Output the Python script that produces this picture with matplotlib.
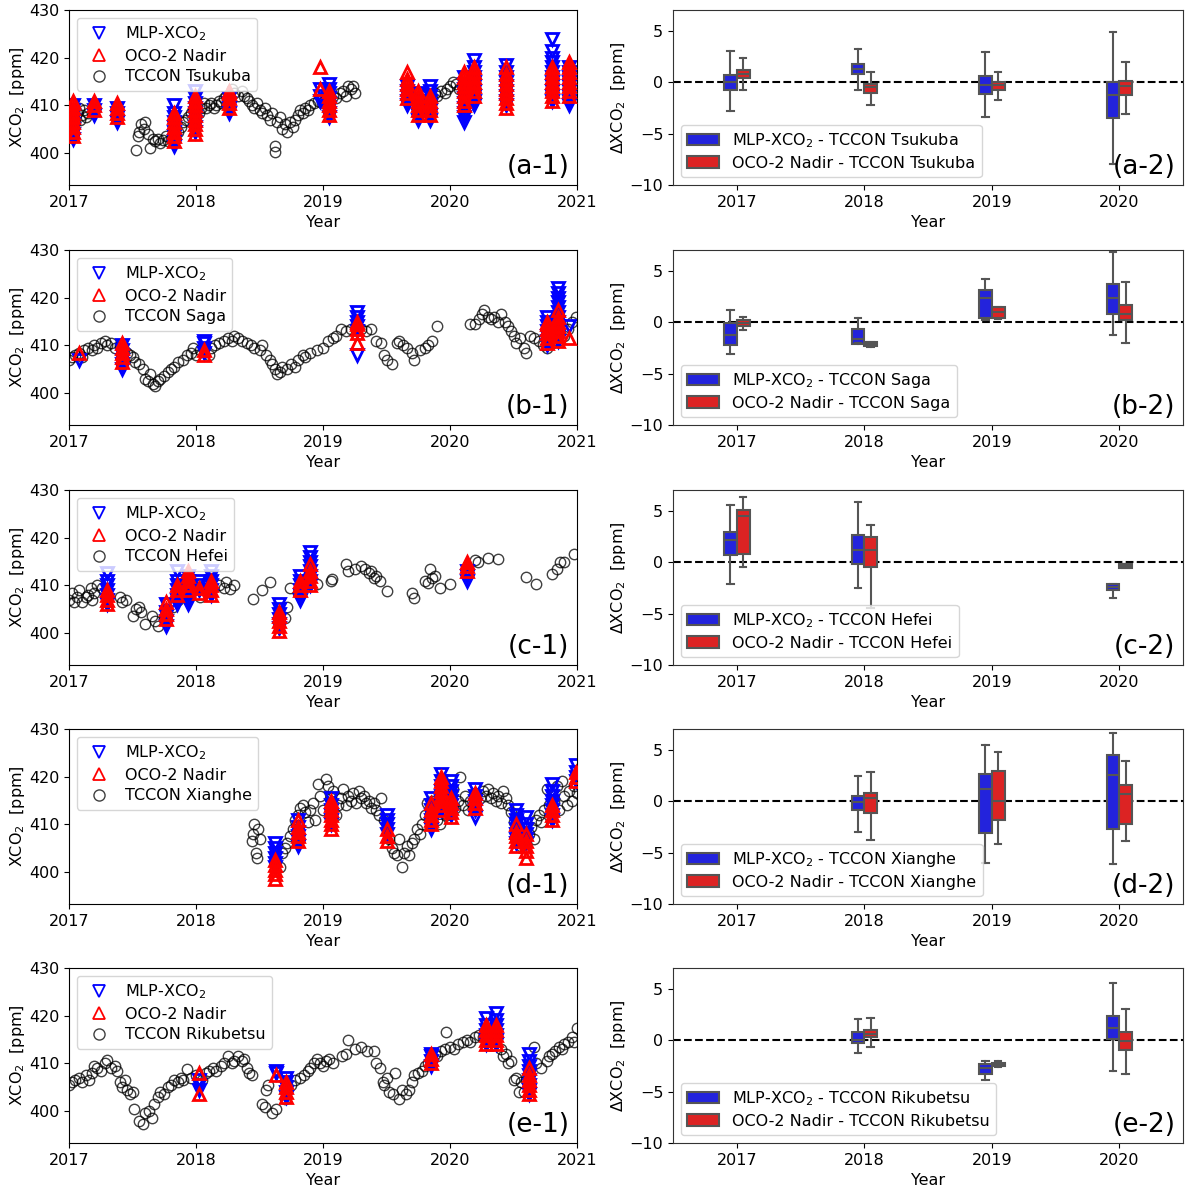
import matplotlib
matplotlib.use("Agg")
import matplotlib.pyplot as plt
from matplotlib.lines import Line2D
from matplotlib.patches import Patch
import numpy as np

# ---------------- data: time series (decimal year, ppm) ----------------
sites = ["Tsukuba", "Saga", "Hefei", "Xianghe", "Rikubetsu"]
panel_ids = ["a", "b", "c", "d", "e"]

tsukuba_tccon_t = [2017.03, 2017.05, 2017.06, 2017.08, 2017.09, 2017.1, 2017.12, 2017.13, 2017.15,
                   2017.53, 2017.54, 2017.55, 2017.57, 2017.59, 2017.6, 2017.62, 2017.64, 2017.66, 2017.68,
                   2017.7, 2017.72, 2017.74, 2017.76, 2017.78, 2017.8, 2017.86, 2017.88, 2017.9, 2017.92,
                   2017.94, 2017.96, 2017.98, 2018.0, 2018.02, 2018.04, 2018.06, 2018.08, 2018.1, 2018.12,
                   2018.14, 2018.16, 2018.18, 2018.2, 2018.22, 2018.24, 2018.28, 2018.3, 2018.33, 2018.36,
                   2018.38, 2018.4, 2018.42, 2018.44, 2018.46, 2018.48, 2018.5, 2018.52, 2018.54, 2018.56,
                   2018.58, 2018.6, 2018.62, 2018.625, 2018.64, 2018.66, 2018.68, 2018.7, 2018.72, 2018.74,
                   2018.76, 2018.78, 2018.8, 2018.82, 2018.84, 2018.86, 2018.88, 2018.9, 2018.93, 2018.96,
                   2018.99, 2019.02, 2019.05, 2019.08, 2019.1, 2019.13, 2019.16, 2019.18, 2019.2, 2019.22,
                   2019.24, 2019.25, 2019.8, 2019.83, 2019.86, 2019.88, 2019.9, 2019.93, 2019.96, 2019.98,
                   2020.0, 2020.02, 2020.05, 2020.07]
tsukuba_tccon_x = [407.5, 406.5, 408.5, 409.5, 407, 408, 409, 407.5, 408.5,
                   400.7, 403.5, 404.5, 406, 405, 406.5, 404, 401, 403, 402.5,
                   403, 402.2, 402.8, 403.5, 402.5, 403, 404.5, 405.5, 406.5, 407,
                   407.5, 408.5, 409, 410, 408.5, 409.5, 410.5, 409.5, 410, 410.5,
                   409.5, 410, 411, 410.5, 411.5, 412, 413.5, 412.5, 412, 413,
                   412, 411.5, 411, 410, 409.5, 410.5, 409, 408.5, 409.5, 408,
                   407, 408.5, 401.5, 400.3, 406.5, 407.5, 405, 406, 404.5, 406.5,
                   405.5, 407, 408, 409, 408.5, 409.5, 409, 410, 410.5, 411,
                   410.5, 411.5, 411, 412, 411.5, 412.5, 413, 412, 414, 413.5,
                   414, 412.5, 410.5, 411, 411.5, 412.5, 412, 413, 412.5, 413.5,
                   414, 415, 414.5, 413.5]
tsukuba_mlp_t = [2017.03, 2017.2, 2017.38, 2017.83, 2017.99, 2018.26, 2018.98, 2019.05,
                 2019.66, 2019.75, 2019.84, 2020.11, 2020.19, 2020.44, 2020.8, 2020.94]
tsukuba_mlp_x = [[403, 404, 405, 406, 407, 408, 409, 410],
                 [408, 409, 410],
                 [406.5, 407.5, 408.5, 409.5],
                 [401.5, 402.5, 403.5, 404.5, 405.5, 406.5, 407.5, 408.5, 410],
                 [404.5, 405.5, 406.5, 407.5, 408.5, 409.5, 410.5, 411.5, 413],
                 [408.5, 409.5, 410.5, 411.5],
                 [411, 412, 413.5],
                 [407.5, 408.5, 409.5, 410.5, 411.5, 412.5, 413.5, 414.5],
                 [410, 411, 412, 413, 414],
                 [407, 408, 409, 410, 411, 412.5],
                 [407, 408, 409, 410, 411, 412, 413, 414],
                 [406.5, 407.5, 408.5, 409.5, 410.5, 411.5, 412.5, 413.5, 414.5, 416],
                 [410, 411, 412, 413, 414, 415, 416, 417, 418, 419.5],
                 [410, 411, 412, 413, 414, 415, 416, 417, 418.5],
                 [411, 412, 413, 414, 415, 416, 417, 418, 419, 420, 421.5, 424],
                 [410, 411, 412, 413, 414, 415, 416, 417, 418]]
tsukuba_oco_t = tsukuba_mlp_t
tsukuba_oco_x = [[403.5, 404.5, 405.5, 406.5, 407.5, 408.5, 409.5, 410.5, 411],
                 [409, 410, 411],
                 [407.5, 408.5, 409.5, 410.5],
                 [402.5, 403.5, 404.5, 405.5, 406.5, 407.5, 408.5],
                 [404, 405, 406, 407, 408, 409, 410, 411, 412],
                 [409.5, 410.5, 411.5, 412.5, 413],
                 [413.5, 418],
                 [408, 409, 410, 411, 412, 413],
                 [411.5, 412.5, 413.5, 414.5, 415.5, 417],
                 [408, 409, 410, 411, 412, 413],
                 [408, 409, 410, 411, 412],
                 [410, 411, 412, 413, 414, 415, 416, 417],
                 [412, 413, 414, 415, 416, 417, 418],
                 [409.5, 410.5, 411.5, 412.5, 413.5, 414.5, 415.5, 416.5, 418],
                 [411, 412, 413, 414, 415, 416, 417, 418],
                 [412, 413, 414, 415, 416, 417, 418, 419]]

saga_tccon_t = [2017.0, 2017.02, 2017.05, 2017.08, 2017.1, 2017.12, 2017.15, 2017.18, 2017.2, 2017.22,
                2017.25, 2017.28, 2017.3, 2017.33, 2017.36, 2017.4, 2017.43, 2017.46, 2017.48, 2017.5,
                2017.52, 2017.55, 2017.58, 2017.6, 2017.62, 2017.64, 2017.66, 2017.68, 2017.7, 2017.72,
                2017.75, 2017.78, 2017.8, 2017.83, 2017.86, 2017.9, 2017.93, 2017.96, 2017.98, 2018.0,
                2018.03, 2018.06, 2018.1, 2018.12, 2018.15, 2018.18, 2018.22, 2018.25, 2018.28, 2018.3,
                2018.33, 2018.36, 2018.4, 2018.43, 2018.46, 2018.5, 2018.52, 2018.55, 2018.58, 2018.6,
                2018.62, 2018.64, 2018.66, 2018.68, 2018.72, 2018.75, 2018.78, 2018.8, 2018.84, 2018.86,
                2018.9, 2018.95, 2019.0, 2019.04, 2019.08, 2019.1, 2019.14, 2019.18, 2019.22, 2019.26,
                2019.3, 2019.34, 2019.38, 2019.42, 2019.46, 2019.48, 2019.5, 2019.54, 2019.58, 2019.6,
                2019.63, 2019.66, 2019.7, 2019.72, 2019.76, 2019.8, 2019.83, 2019.86, 2019.9,
                2020.16, 2020.2, 2020.23, 2020.25, 2020.27, 2020.3, 2020.32, 2020.35, 2020.38, 2020.4,
                2020.43, 2020.46, 2020.48, 2020.5, 2020.52, 2020.55, 2020.58, 2020.6, 2020.63, 2020.66,
                2020.7, 2020.73, 2020.76, 2020.8, 2020.85, 2020.9, 2020.93, 2020.96, 2020.99]
saga_tccon_x = [407, 407.5, 408, 408.5, 407.5, 409, 409.5, 409, 410, 409.5,
                410.5, 411, 410, 410.5, 409.5, 410, 409, 408.5, 408, 407.5,
                406.5, 406, 405, 403, 402.5, 404, 402, 401.5, 402.5, 403,
                403.5, 404.5, 405, 405.5, 406.5, 407, 408, 408.5, 409.5, 408,
                409, 409.5, 408, 409.5, 410, 410.5, 411, 411.5, 411, 412,
                411.5, 411, 410.5, 410, 409.5, 409, 410, 408, 407, 406,
                405, 404, 404.5, 405.5, 405, 406, 405.5, 407, 408, 407.5,
                408.5, 409, 409.5, 411, 411.5, 412, 413.5, 413, 413.5, 414,
                413.5, 413, 413.5, 411, 410.5, 408, 407, 406, 410.5, 411,
                410, 409.5, 408.5, 407, 409, 409.5, 410, 411, 414,
                414.5, 414.5, 415.5, 416.5, 417.5, 416, 415.5, 416, 415, 416.5,
                415, 414, 413, 412, 410.5, 411.5, 409.5, 408.5, 412, 411.5,
                411, 410, 409.5, 410.5, 411, 412, 413.5, 415, 416]
saga_mlp_t = [2017.08, 2017.42, 2018.06, 2019.27, 2020.76, 2020.85, 2020.94]
saga_mlp_x = [[407],
              [405, 406, 407, 408, 409, 410],
              [408.5, 409.5, 410.5, 411],
              [408, 413, 414, 415, 416, 417],
              [410, 411, 412, 413, 414, 415, 416],
              [411, 412, 413, 414, 415, 416, 417, 418, 419, 420, 421, 422],
              [414]]
saga_oco_t = saga_mlp_t
saga_oco_x = [[408.5],
              [406.5, 407.5, 408.5, 409.5, 410.5],
              [408, 409],
              [410.5, 412.5, 413.5, 414.5, 415],
              [410.5, 411.5, 412.5, 413.5, 414.5, 415],
              [411, 412, 413, 414, 415, 416, 417.5],
              [411.5]]

hefei_tccon_t = [2017.0, 2017.02, 2017.04, 2017.06, 2017.08, 2017.1, 2017.13, 2017.15, 2017.17, 2017.18,
                 2017.2, 2017.22, 2017.26, 2017.4, 2017.42, 2017.45, 2017.5, 2017.53, 2017.55, 2017.57,
                 2017.6, 2017.65, 2017.68, 2017.7, 2017.75, 2017.82, 2017.86, 2017.9, 2018.0, 2018.03,
                 2018.18, 2018.22, 2018.24, 2018.27, 2018.3, 2018.45, 2018.52, 2018.58, 2018.7, 2018.72,
                 2018.74, 2018.8, 2018.95, 2019.06, 2019.07, 2019.18, 2019.2, 2019.25, 2019.3, 2019.33,
                 2019.36, 2019.38, 2019.4, 2019.42, 2019.45, 2019.5, 2019.7, 2019.72, 2019.8, 2019.83,
                 2019.84, 2019.86, 2019.88, 2019.92, 2020.0, 2020.2, 2020.22, 2020.3, 2020.38, 2020.6,
                 2020.68, 2020.8, 2020.84, 2020.87, 2020.9, 2020.98]
hefei_tccon_x = [407, 408.5, 406.5, 407.5, 409, 406.5, 407.5, 408, 409.5, 407,
                 408.5, 410, 409.5, 407.5, 406.5, 407, 403.5, 405, 405.5, 404.5,
                 401.8, 403.5, 402.5, 401.5, 403, 405.5, 407, 408, 410, 407.5,
                 410, 409.5, 410.8, 409.2, 410, 407.2, 409, 410.8, 403.2, 405.5,
                 409.5, 408.5, 410.3, 411, 411.3, 414.5, 413, 413.5, 414, 413.5,
                 412.5, 413, 411.5, 412, 411, 408.8, 408.3, 407.3, 411, 410.5,
                 413.5, 411.5, 412, 409.5, 410.3, 415.3, 414.8, 415.8, 415.5, 411.8,
                 410.3, 412.3, 413.5, 414.8, 415, 416.5]
hefei_mlp_t = [2017.3, 2017.76, 2017.85, 2017.94, 2018.02, 2018.12, 2018.65, 2018.82, 2018.9, 2020.13]
hefei_mlp_x = [[406, 407, 408, 409, 410, 411, 412.5],
               [401.5, 402.5, 403.5, 404.5, 406],
               [406, 407, 408, 409, 410, 411, 413],
               [406, 407, 408, 409, 410, 411, 412],
               [409, 410, 411],
               [408, 409, 410, 411, 412, 413],
               [401, 402, 403, 404, 405, 406],
               [407, 408, 409, 410, 411, 412],
               [410, 411, 412, 413, 414, 415, 416, 417],
               [411, 412, 413]]
hefei_oco_t = hefei_mlp_t
hefei_oco_x = [[406, 407, 408, 409],
               [403, 404, 405, 406.5],
               [408, 409, 410],
               [409, 410, 411, 412, 413],
               [408.5, 409.5],
               [408, 409, 410, 411],
               [400.5, 401.5, 402.5, 403.5, 404.5],
               [409, 410, 411],
               [410, 411, 412, 413, 414.5],
               [413, 414, 415]]

xianghe_tccon_t = [2018.44, 2018.45, 2018.46, 2018.47, 2018.48, 2018.49, 2018.5, 2018.66, 2018.68, 2018.7,
                   2018.72, 2018.74, 2018.76, 2018.78, 2018.8, 2018.82, 2018.84, 2018.86, 2018.88, 2018.9,
                   2018.92, 2018.94, 2018.96, 2018.98, 2019.0, 2019.02, 2019.04, 2019.06, 2019.08, 2019.1,
                   2019.12, 2019.14, 2019.16, 2019.18, 2019.2, 2019.22, 2019.24, 2019.26, 2019.28, 2019.3,
                   2019.32, 2019.34, 2019.36, 2019.38, 2019.4, 2019.42, 2019.44, 2019.46, 2019.48, 2019.5,
                   2019.52, 2019.54, 2019.56, 2019.58, 2019.6, 2019.62, 2019.64, 2019.66, 2019.68, 2019.7,
                   2019.72, 2019.74, 2019.76, 2019.78, 2019.8, 2019.82, 2019.84, 2019.86, 2019.88, 2019.9,
                   2019.92, 2019.94, 2019.96, 2019.98, 2020.0, 2020.02, 2020.04, 2020.06, 2020.08, 2020.1,
                   2020.12, 2020.14, 2020.16, 2020.18, 2020.2, 2020.24, 2020.26, 2020.28, 2020.3, 2020.32,
                   2020.34, 2020.36, 2020.38, 2020.4, 2020.42, 2020.44, 2020.46, 2020.48, 2020.5, 2020.52,
                   2020.54, 2020.56, 2020.58, 2020.6, 2020.62, 2020.64, 2020.66, 2020.68, 2020.7, 2020.72,
                   2020.74, 2020.76, 2020.78, 2020.8, 2020.82, 2020.84, 2020.86, 2020.88, 2020.9, 2020.92,
                   2020.94, 2020.96, 2020.98, 2021.0]
xianghe_tccon_x = [406.5, 408, 410, 404, 403, 409, 407, 401, 404, 405,
                   406, 407.5, 409, 411, 412, 413.5, 414, 412.5, 410.5, 413,
                   414.5, 411, 418.5, 416, 413, 419.5, 418, 415.5, 417, 412,
                   414, 415.5, 417.5, 414, 416, 415, 416.5, 414.5, 417, 415.5,
                   416, 414.5, 415, 413.5, 414.5, 413, 412, 415.5, 411, 409.5,
                   407, 405, 404, 403.5, 407, 401, 404, 405.5, 403.5, 406,
                   407, 409, 408, 410, 412, 414.5, 413, 415, 412.5, 411,
                   410, 413, 416, 412, 414, 417.5, 413.5, 415, 420, 414,
                   416, 413, 415, 414, 416.5, 415.5, 417, 416, 417.5, 415.5,
                   416.5, 415, 416, 414.5, 417, 415.5, 414, 412.5, 410.5, 409,
                   407, 405.5, 407.5, 406, 408, 409.5, 407, 411, 412, 410.5,
                   413, 417.5, 414, 412, 415, 418, 413, 419, 416, 414,
                   417, 415, 418, 416.5]
xianghe_mlp_t = [2018.62, 2018.8, 2019.06, 2019.5, 2019.85, 2019.93, 2020.01, 2020.2,
                 2020.52, 2020.6, 2020.8, 2020.99]
xianghe_mlp_x = [[401, 402, 403, 404, 405, 406],
                 [405.5, 406.5, 407.5, 408.5, 409.5, 411],
                 [410, 411, 412, 413, 414, 415.5],
                 [408, 409, 410, 411, 412],
                 [409, 410, 411, 412, 413, 414, 415.5],
                 [413, 414, 415, 416, 417, 418, 419, 420.5],
                 [412, 413, 414, 415, 416, 417, 418, 419],
                 [411.5, 413, 414, 415, 416, 417.5],
                 [406, 407, 408, 409, 410, 411, 412, 413],
                 [406, 407, 408, 409, 410, 411.5],
                 [411, 412, 413, 414, 415, 416, 417, 418.5],
                 [419, 420, 421, 422.5]]
xianghe_oco_t = xianghe_mlp_t
xianghe_oco_x = [[398.5, 399.5, 400.5, 401.5, 402.5],
                 [406.5, 407.5, 408.5, 409.5, 411],
                 [409, 410, 411, 412, 413, 414, 415],
                 [406.5, 407.5, 409],
                 [410, 411, 412, 413, 414.5],
                 [413, 414, 415, 416, 417, 418, 419, 420],
                 [411.5, 412.5, 413.5, 414.5, 415.5],
                 [413.5, 414.5, 415.5, 416.5],
                 [405.5, 406.5, 407.5, 408.5, 410],
                 [403, 404.5, 405.5, 406.5, 408],
                 [411, 412, 413, 414],
                 [419, 420, 421]]

rikubetsu_tccon_t = [2017.0, 2017.02, 2017.05, 2017.08, 2017.1, 2017.13, 2017.16, 2017.18, 2017.2, 2017.22,
                     2017.25, 2017.28, 2017.3, 2017.33, 2017.36, 2017.38, 2017.4, 2017.42, 2017.44, 2017.46,
                     2017.48, 2017.5, 2017.51, 2017.55, 2017.58, 2017.6, 2017.63, 2017.65, 2017.67, 2017.7,
                     2017.72, 2017.75, 2017.78, 2017.8, 2017.83, 2017.86, 2017.88, 2017.9, 2017.93, 2017.96,
                     2018.0, 2018.05, 2018.08, 2018.1, 2018.13, 2018.16, 2018.2, 2018.22, 2018.25, 2018.28,
                     2018.3, 2018.33, 2018.36, 2018.38, 2018.4, 2018.42, 2018.44, 2018.52, 2018.54, 2018.55,
                     2018.57, 2018.6, 2018.63, 2018.7, 2018.75, 2018.78, 2018.82, 2018.85, 2018.88, 2018.9,
                     2018.93, 2018.95, 2018.98, 2019.0, 2019.02, 2019.05, 2019.08, 2019.15, 2019.18, 2019.2,
                     2019.25, 2019.3, 2019.35, 2019.4, 2019.42, 2019.45, 2019.47, 2019.48, 2019.5, 2019.52,
                     2019.55, 2019.57, 2019.6, 2019.62, 2019.65, 2019.68, 2019.7, 2019.72, 2019.75, 2019.78,
                     2019.8, 2019.83, 2019.86, 2019.88, 2019.9, 2019.93, 2019.96, 2019.97, 2020.0, 2020.03,
                     2020.06, 2020.1, 2020.13, 2020.16, 2020.2, 2020.23, 2020.26, 2020.28, 2020.4, 2020.42,
                     2020.44, 2020.46, 2020.48, 2020.5, 2020.52, 2020.54, 2020.56, 2020.58, 2020.6, 2020.62,
                     2020.66, 2020.68, 2020.72, 2020.76, 2020.78, 2020.8, 2020.83, 2020.86, 2020.88, 2020.9,
                     2020.93, 2020.96, 2020.98, 2021.0]
rikubetsu_tccon_x = [405.5, 406, 406.5, 407, 406, 407.5, 406.5, 408, 409.5, 409,
                     408.5, 410, 410.8, 409, 409.5, 408.5, 406, 405, 406.5, 404.5,
                     403.5, 404, 400.5, 398, 397.3, 399.5, 400, 398.5, 401.5, 403,
                     404, 403.5, 405, 405.5, 406.5, 406, 407, 406.5, 408.8, 407,
                     407.5, 406.5, 408, 408.5, 409, 408.5, 409.5, 410, 411.5, 410,
                     410.5, 411.5, 410.5, 411, 409, 408, 407.5, 401.5, 400.8, 404.5,
                     405.5, 399.5, 400.5, 402.5, 405.5, 406.5, 407, 407.5, 408.5, 409,
                     410, 411, 410, 409.5, 410.5, 411, 410, 411.5, 412, 415,
                     413, 413.5, 412.5, 412.5, 410, 409, 406, 405.5, 407, 404,
                     403.5, 408, 402.5, 404.5, 403.5, 404.5, 406, 407.5, 408, 408.5,
                     409.5, 410, 411, 412, 411.5, 412.5, 413, 416.5, 413.5, 413,
                     414, 414.5, 415, 414.5, 415.5, 416, 415.5, 414.5, 413, 411.5,
                     412, 410, 410.5, 406.5, 407, 404, 406, 404, 406.5, 407,
                     413.5, 410, 409, 410.5, 411.5, 412, 412.5, 413.5, 413, 414,
                     414.5, 415.5, 414.5, 417.5]
rikubetsu_mlp_t = [2018.02, 2018.63, 2018.71, 2019.85, 2020.28, 2020.36, 2020.62]
rikubetsu_mlp_x = [[404.5, 405.5, 406.5],
                   [408, 408.5],
                   [403, 404, 405, 406, 407],
                   [409.5, 410.5, 411.5, 412],
                   [414, 415, 416, 417, 418, 419.5],
                   [414, 415, 416, 417, 418, 419, 420.5],
                   [403.5, 404.5, 405.5, 406.5, 407.5, 408.5, 409.5, 410.5, 412]]
rikubetsu_oco_t = rikubetsu_mlp_t
rikubetsu_oco_x = [[403.5, 408],
                   [407.5],
                   [403, 404, 405, 406],
                   [410, 411, 412],
                   [414, 415, 416, 417, 418],
                   [414, 415, 416, 417, 418],
                   [403.5, 404.5, 405.5, 406.5, 407.5, 409]]

# ---------------- data: yearly difference statistics ----------------
# per year 2017..2020: (whislo, q1, median, q3, whishi); None = no data
years = [2017, 2018, 2019, 2020]
tsukuba_mlp_box = [(-2.8, -0.8, 0.0, 0.7, 3.0), (-0.8, 0.8, 1.3, 1.8, 3.2),
                   (-3.4, -1.2, -0.3, 0.6, 2.9), (-8.0, -3.5, -1.3, 0.0, 4.9)]
tsukuba_oco_box = [(-0.8, 0.4, 0.8, 1.2, 2.3), (-2.2, -1.1, -0.5, -0.2, 1.0),
                   (-1.7, -0.8, -0.3, 0.0, 1.0), (-3.1, -1.3, -0.4, 0.1, 1.9)]
saga_mlp_box = [(-3.1, -2.2, -1.3, -0.1, 1.2), (-2.0, -2.1, -1.6, -0.7, 0.4),
                (0.2, 0.4, 2.3, 3.1, 4.2), (-1.3, 0.8, 2.3, 3.7, 6.8)]
saga_oco_box = [(-0.8, -0.4, -0.1, 0.2, 0.5), (-2.4, -2.3, -2.1, -1.9, -1.9),
                (0.3, 0.4, 1.0, 1.5, 1.5), (-2.0, 0.2, 0.8, 1.7, 3.9)]
hefei_mlp_box = [(-2.1, 0.7, 2.1, 2.9, 5.5), (-2.5, -0.2, 1.2, 2.6, 5.8),
                 None, (-3.5, -2.7, -2.4, -2.1, -2.1)]
hefei_oco_box = [(-0.5, 0.8, 4.5, 5.1, 6.3), (-4.5, -0.5, 1.2, 2.4, 3.6),
                 None, (-0.6, -0.6, -0.4, -0.2, -0.2)]
xianghe_mlp_box = [None, (-3.0, -0.9, -0.1, 0.5, 2.4),
                   (-6.0, -3.1, 1.2, 2.6, 5.4), (-6.1, -2.7, 2.5, 4.5, 6.6)]
xianghe_oco_box = [None, (-3.8, -1.2, 0.3, 0.8, 2.8),
                   (-4.2, -1.8, 0.0, 2.9, 4.8), (-3.9, -2.2, 0.7, 1.6, 3.9)]
rikubetsu_mlp_box = [None, (-1.3, -0.3, 0.0, 0.8, 2.0),
                     (-3.9, -3.3, -2.7, -2.3, -2.0), (-3.0, 0.1, 1.2, 2.3, 5.5)]
rikubetsu_oco_box = [None, (-0.7, 0.3, 0.6, 1.0, 2.1),
                     (-2.6, -2.5, -2.4, -2.2, -2.0), (-3.3, -1.0, -0.1, 0.8, 3.0)]

tccon = [(tsukuba_tccon_t, tsukuba_tccon_x), (saga_tccon_t, saga_tccon_x), (hefei_tccon_t, hefei_tccon_x),
         (xianghe_tccon_t, xianghe_tccon_x), (rikubetsu_tccon_t, rikubetsu_tccon_x)]
mlp = [(tsukuba_mlp_t, tsukuba_mlp_x), (saga_mlp_t, saga_mlp_x), (hefei_mlp_t, hefei_mlp_x),
       (xianghe_mlp_t, xianghe_mlp_x), (rikubetsu_mlp_t, rikubetsu_mlp_x)]
oco = [(tsukuba_oco_t, tsukuba_oco_x), (saga_oco_t, saga_oco_x), (hefei_oco_t, hefei_oco_x),
       (xianghe_oco_t, xianghe_oco_x), (rikubetsu_oco_t, rikubetsu_oco_x)]
mlp_box = [tsukuba_mlp_box, saga_mlp_box, hefei_mlp_box, xianghe_mlp_box, rikubetsu_mlp_box]
oco_box = [tsukuba_oco_box, saga_oco_box, hefei_oco_box, xianghe_oco_box, rikubetsu_oco_box]


def flatten(dates, stacks):
    t, x = [], []
    for d, vals in zip(dates, stacks):
        t += [d] * len(vals)
        x += list(vals)
    return t, x


def to_stats(boxes):
    out = []
    for b in boxes:
        if b is None:
            out.append(None)
        else:
            lo, q1, med, q3, hi = b
            out.append(dict(whislo=lo, q1=q1, med=med, q3=q3, whishi=hi, fliers=[]))
    return out


FS = 11.5
box_blue = "#2323dc"
box_red = "#dc2323"
box_edge = "#555555"

fig = plt.figure(figsize=(11.94, 11.90), dpi=100)
W, H = 1194, 1190
row_tops = [10, 250, 490, 729, 968]

for i, site in enumerate(sites):
    top = row_tops[i]
    # ---- left: time series ----
    ax = fig.add_axes([69 / W, 1 - (top + 175) / H, 508 / W, 175 / H])
    tt, tx = tccon[i]
    ax.plot(tt, tx, 'o', mfc='none', mec='k', mew=1.0, ms=7.5, alpha=0.75, zorder=1)
    mt, mx = flatten(*mlp[i])
    ax.plot(mt, mx, 'v', mfc='none', mec='blue', mew=2.0, ms=8, zorder=2)
    ot, ox = flatten(*oco[i])
    ax.plot(ot, ox, '^', mfc='none', mec='red', mew=2.0, ms=8, zorder=3)
    ax.set_xlim(2017, 2021)
    ax.set_ylim(393.3, 430)
    ax.set_xticks([2017, 2018, 2019, 2020, 2021])
    ax.set_xticklabels(["2017", "2018", "2019", "2020", "2021"])
    ax.set_yticks([400, 410, 420, 430])
    ax.tick_params(labelsize=FS)
    ax.set_xlabel("Year", fontsize=FS)
    ax.set_ylabel("XCO$_2$  [ppm]", fontsize=FS, labelpad=1)
    handles = [Line2D([], [], ls='none', marker='v', mfc='none', mec='blue', mew=1.3, ms=9),
               Line2D([], [], ls='none', marker='^', mfc='none', mec='red', mew=1.3, ms=9),
               Line2D([], [], ls='none', marker='o', mfc='none', mec='k', mew=1.0, ms=8, alpha=0.75)]
    ax.legend(handles, ["MLP-XCO$_2$", "OCO-2 Nadir", "TCCON " + site], loc='upper left',
              fontsize=FS, handletextpad=0.6, borderpad=0.4, labelspacing=0.35)
    ax.text(0.985, 0.03, "(%s-1)" % panel_ids[i], transform=ax.transAxes, ha='right', va='bottom',
            fontsize=19)

    # ---- right: yearly box plots ----
    bx = fig.add_axes([673 / W, 1 - (top + 175) / H, 510 / W, 175 / H])
    bx.axhline(0, color='k', ls='--', lw=1.5, zorder=0)
    for stats, off, col in [(to_stats(mlp_box[i]), -0.05, box_blue), (to_stats(oco_box[i]), 0.05, box_red)]:
        pos = [k + off for k, s in enumerate(stats) if s is not None]
        st = [s for s in stats if s is not None]
        bx.bxp(st, positions=pos, widths=0.1, capwidths=0.05, patch_artist=True, showfliers=False,
               boxprops=dict(facecolor=col, edgecolor=box_edge, linewidth=1.5),
               whiskerprops=dict(color=box_edge, linewidth=1.5),
               capprops=dict(color=box_edge, linewidth=1.5),
               medianprops=dict(color=box_edge, linewidth=1.5), manage_ticks=False)
    bx.set_xlim(-0.5, 3.5)
    bx.set_ylim(-10, 7)
    bx.set_xticks(range(len(years)))
    bx.set_xticklabels([str(y) for y in years])
    bx.set_yticks([-10, -5, 0, 5])
    bx.tick_params(labelsize=FS)
    bx.set_xlabel("Year", fontsize=FS)
    bx.set_ylabel("ΔXCO$_2$  [ppm]", fontsize=FS, labelpad=1)
    for sp in bx.spines.values():
        sp.set_color('#333333')
    phandles = [Patch(facecolor=box_blue, edgecolor=box_edge, linewidth=1.5),
                Patch(facecolor=box_red, edgecolor=box_edge, linewidth=1.5)]
    bx.legend(phandles, ["MLP-XCO$_2$ - TCCON " + site, "OCO-2 Nadir - TCCON " + site],
              loc='lower left', fontsize=FS, handlelength=2.0, borderpad=0.4, labelspacing=0.35)
    bx.text(0.985, 0.03, "(%s-2)" % panel_ids[i], transform=bx.transAxes, ha='right', va='bottom',
            fontsize=19)

fig.savefig("out.png", dpi=100)
